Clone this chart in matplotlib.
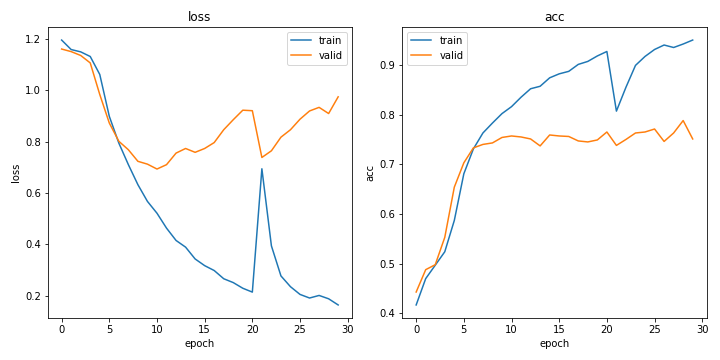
import matplotlib
matplotlib.use("Agg")
import matplotlib.pyplot as plt

epochs = list(range(30))

train_loss = [1.195, 1.158, 1.149, 1.131, 1.061, 0.898, 0.794, 0.71, 0.632, 0.567,
              0.521, 0.463, 0.415, 0.389, 0.343, 0.317, 0.298, 0.266, 0.251, 0.229,
              0.214, 0.694, 0.394, 0.277, 0.235, 0.205, 0.191, 0.201, 0.188, 0.164]
valid_loss = [1.16, 1.15, 1.135, 1.106, 0.983, 0.872, 0.801, 0.768, 0.723, 0.712,
              0.693, 0.71, 0.755, 0.773, 0.758, 0.773, 0.796, 0.846, 0.885, 0.922,
              0.92, 0.738, 0.764, 0.817, 0.846, 0.887, 0.919, 0.933, 0.909, 0.974]

train_acc = [0.417, 0.47, 0.497, 0.524, 0.587, 0.681, 0.731, 0.763, 0.783, 0.802,
             0.816, 0.835, 0.852, 0.857, 0.874, 0.882, 0.887, 0.901, 0.907, 0.918,
             0.927, 0.807, 0.855, 0.899, 0.917, 0.931, 0.94, 0.935, 0.942, 0.95]
valid_acc = [0.443, 0.488, 0.498, 0.553, 0.654, 0.703, 0.733, 0.74, 0.743, 0.754,
             0.757, 0.755, 0.751, 0.737, 0.759, 0.757, 0.756, 0.747, 0.745, 0.749,
             0.765, 0.738, 0.75, 0.763, 0.765, 0.771, 0.746, 0.763, 0.788, 0.751]

fig, axes = plt.subplots(1, 2, figsize=(10, 5), dpi=72)

axes[0].plot(epochs, train_loss, label="train")
axes[0].plot(epochs, valid_loss, label="valid")
axes[0].set_title("loss")
axes[0].set_xlabel("epoch")
axes[0].set_ylabel("loss")
axes[0].legend()

axes[1].plot(epochs, train_acc, label="train")
axes[1].plot(epochs, valid_acc, label="valid")
axes[1].set_title("acc")
axes[1].set_xlabel("epoch")
axes[1].set_ylabel("acc")
axes[1].legend()

plt.tight_layout()
plt.savefig("out.png")
